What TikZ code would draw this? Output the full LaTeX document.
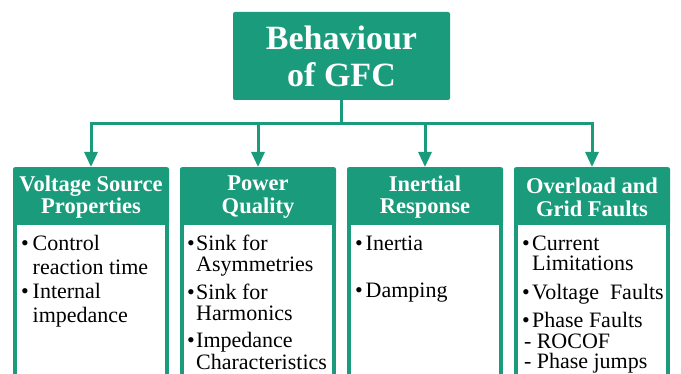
\documentclass[tikz,border=0pt]{standalone}
\usepackage{fontspec}
\setmainfont{Liberation Serif}
\usetikzlibrary{arrows.meta,positioning}
\definecolor{gfcgreen}{RGB}{26,155,123}

\tikzset{
  topbox/.style={fill=gfcgreen, rounded corners=2pt, minimum width=217pt, minimum height=88pt,
    text=white, align=center, font=\fontsize{34}{37}\selectfont\bfseries},
  headbox/.style={fill=gfcgreen, rounded corners=2pt, minimum width=156pt, minimum height=58pt,
    anchor=north, inner sep=0pt},
  headtext/.style={text=white, align=center, font=\fontsize{22.5}{22.5}\selectfont\bfseries},
  bodybox/.style={draw=gfcgreen, fill=white, line width=4pt, minimum width=152pt, minimum height=220pt,
    below=-4pt of #1},
  items/.style={anchor=base west, inner sep=0pt},
  conn/.style={draw=gfcgreen, line width=3pt},
  arr/.style={conn, -{Triangle[width=13pt,length=15pt]}}
}
\newcommand{\bul}{\textbullet}
\newcommand{\subline}[1]{\multicolumn{2}{@{\hspace{2pt}}l@{}}{- #1}}

\begin{document}
\begin{tikzpicture}[x=1pt, y=-1pt]
  \clip (0,0) rectangle (681,374);
  \fill[white] (0,0) rectangle (681,374);

  % root
  \node[topbox] (gfc) at (341.5,56) {Behaviour\\of GFC};
  \coordinate (bus) at (341.5,124);

  % column headers
  \node[headbox] (vsph) at (91,167) {};
  \node[headbox] (pqh)  at (258,167) {};
  \node[headbox] (irh)  at (425,167) {};
  \node[headbox] (ogfh) at (592,167) {};

  \node[headtext] at ([yshift=-1pt]vsph) {Voltage Source\\Properties};
  \node[headtext] at ([yshift=-1pt]pqh)  {Power\\Quality};
  \node[headtext] at ([yshift=-1pt]irh)  {Inertial\\Response};
  \node[headtext] at ([yshift=-1pt]ogfh) {Overload and\\Grid Faults};

  % white bodies
  \node[bodybox=vsph] (vspb) {};
  \node[bodybox=pqh]  (pqb)  {};
  \node[bodybox=irh]  (irb)  {};
  \node[bodybox=ogfh] (ogfb) {};

  % connectors
  \draw[conn] (gfc.south) -- (bus);
  \draw[arr] (bus) -| (vsph.north);
  \draw[arr] (bus) -| (ogfh.north);
  \draw[arr] (pqh.north |- bus) -- (pqh.north);
  \draw[arr] (irh.north |- bus) -- (irh.north);

  % body texts
  \node[items] (vspi) at ([xshift=8pt,yshift=-25pt]vsph.south west)
    {\fontsize{22}{24}\selectfont\begin{tabular}[t]{@{}l@{\hspace{4pt}}l@{}}
      \bul & Control\\ & reaction time\\ \bul & Internal\\ & impedance
    \end{tabular}};
  \node[items] (pqi) at ([xshift=7pt,yshift=-25pt]pqh.south west)
    {\fontsize{22}{21}\selectfont\begin{tabular}[t]{@{}l@{\hspace{1.5pt}}l@{}}
      \bul & Sink for\\ & Asymmetries\\[6pt] \bul & Sink for\\ & Harmonics\\[6pt]
      \bul & Impedance\\ & Characteristics
    \end{tabular}};
  \node[items] (iri) at ([xshift=8pt,yshift=-25pt]irh.south west)
    {\fontsize{22}{21}\selectfont\begin{tabular}[t]{@{}l@{\hspace{3pt}}l@{}}
      \bul & Inertia\\[26pt] \bul & Damping
    \end{tabular}};
  \node[items] (ogfi) at ([xshift=8pt,yshift=-25pt]ogfh.south west)
    {\fontsize{22}{20}\selectfont\begin{tabular}[t]{@{}l@{\hspace{2.5pt}}l@{}}
      \bul & Current\\ & Limitations\\[7pt] \bul & Voltage\ \ Faults\\[7pt]
      \bul & Phase Faults\\ \subline{ROCOF}\\[-1pt] \subline{Phase jumps}
    \end{tabular}};
\end{tikzpicture}
\end{document}
